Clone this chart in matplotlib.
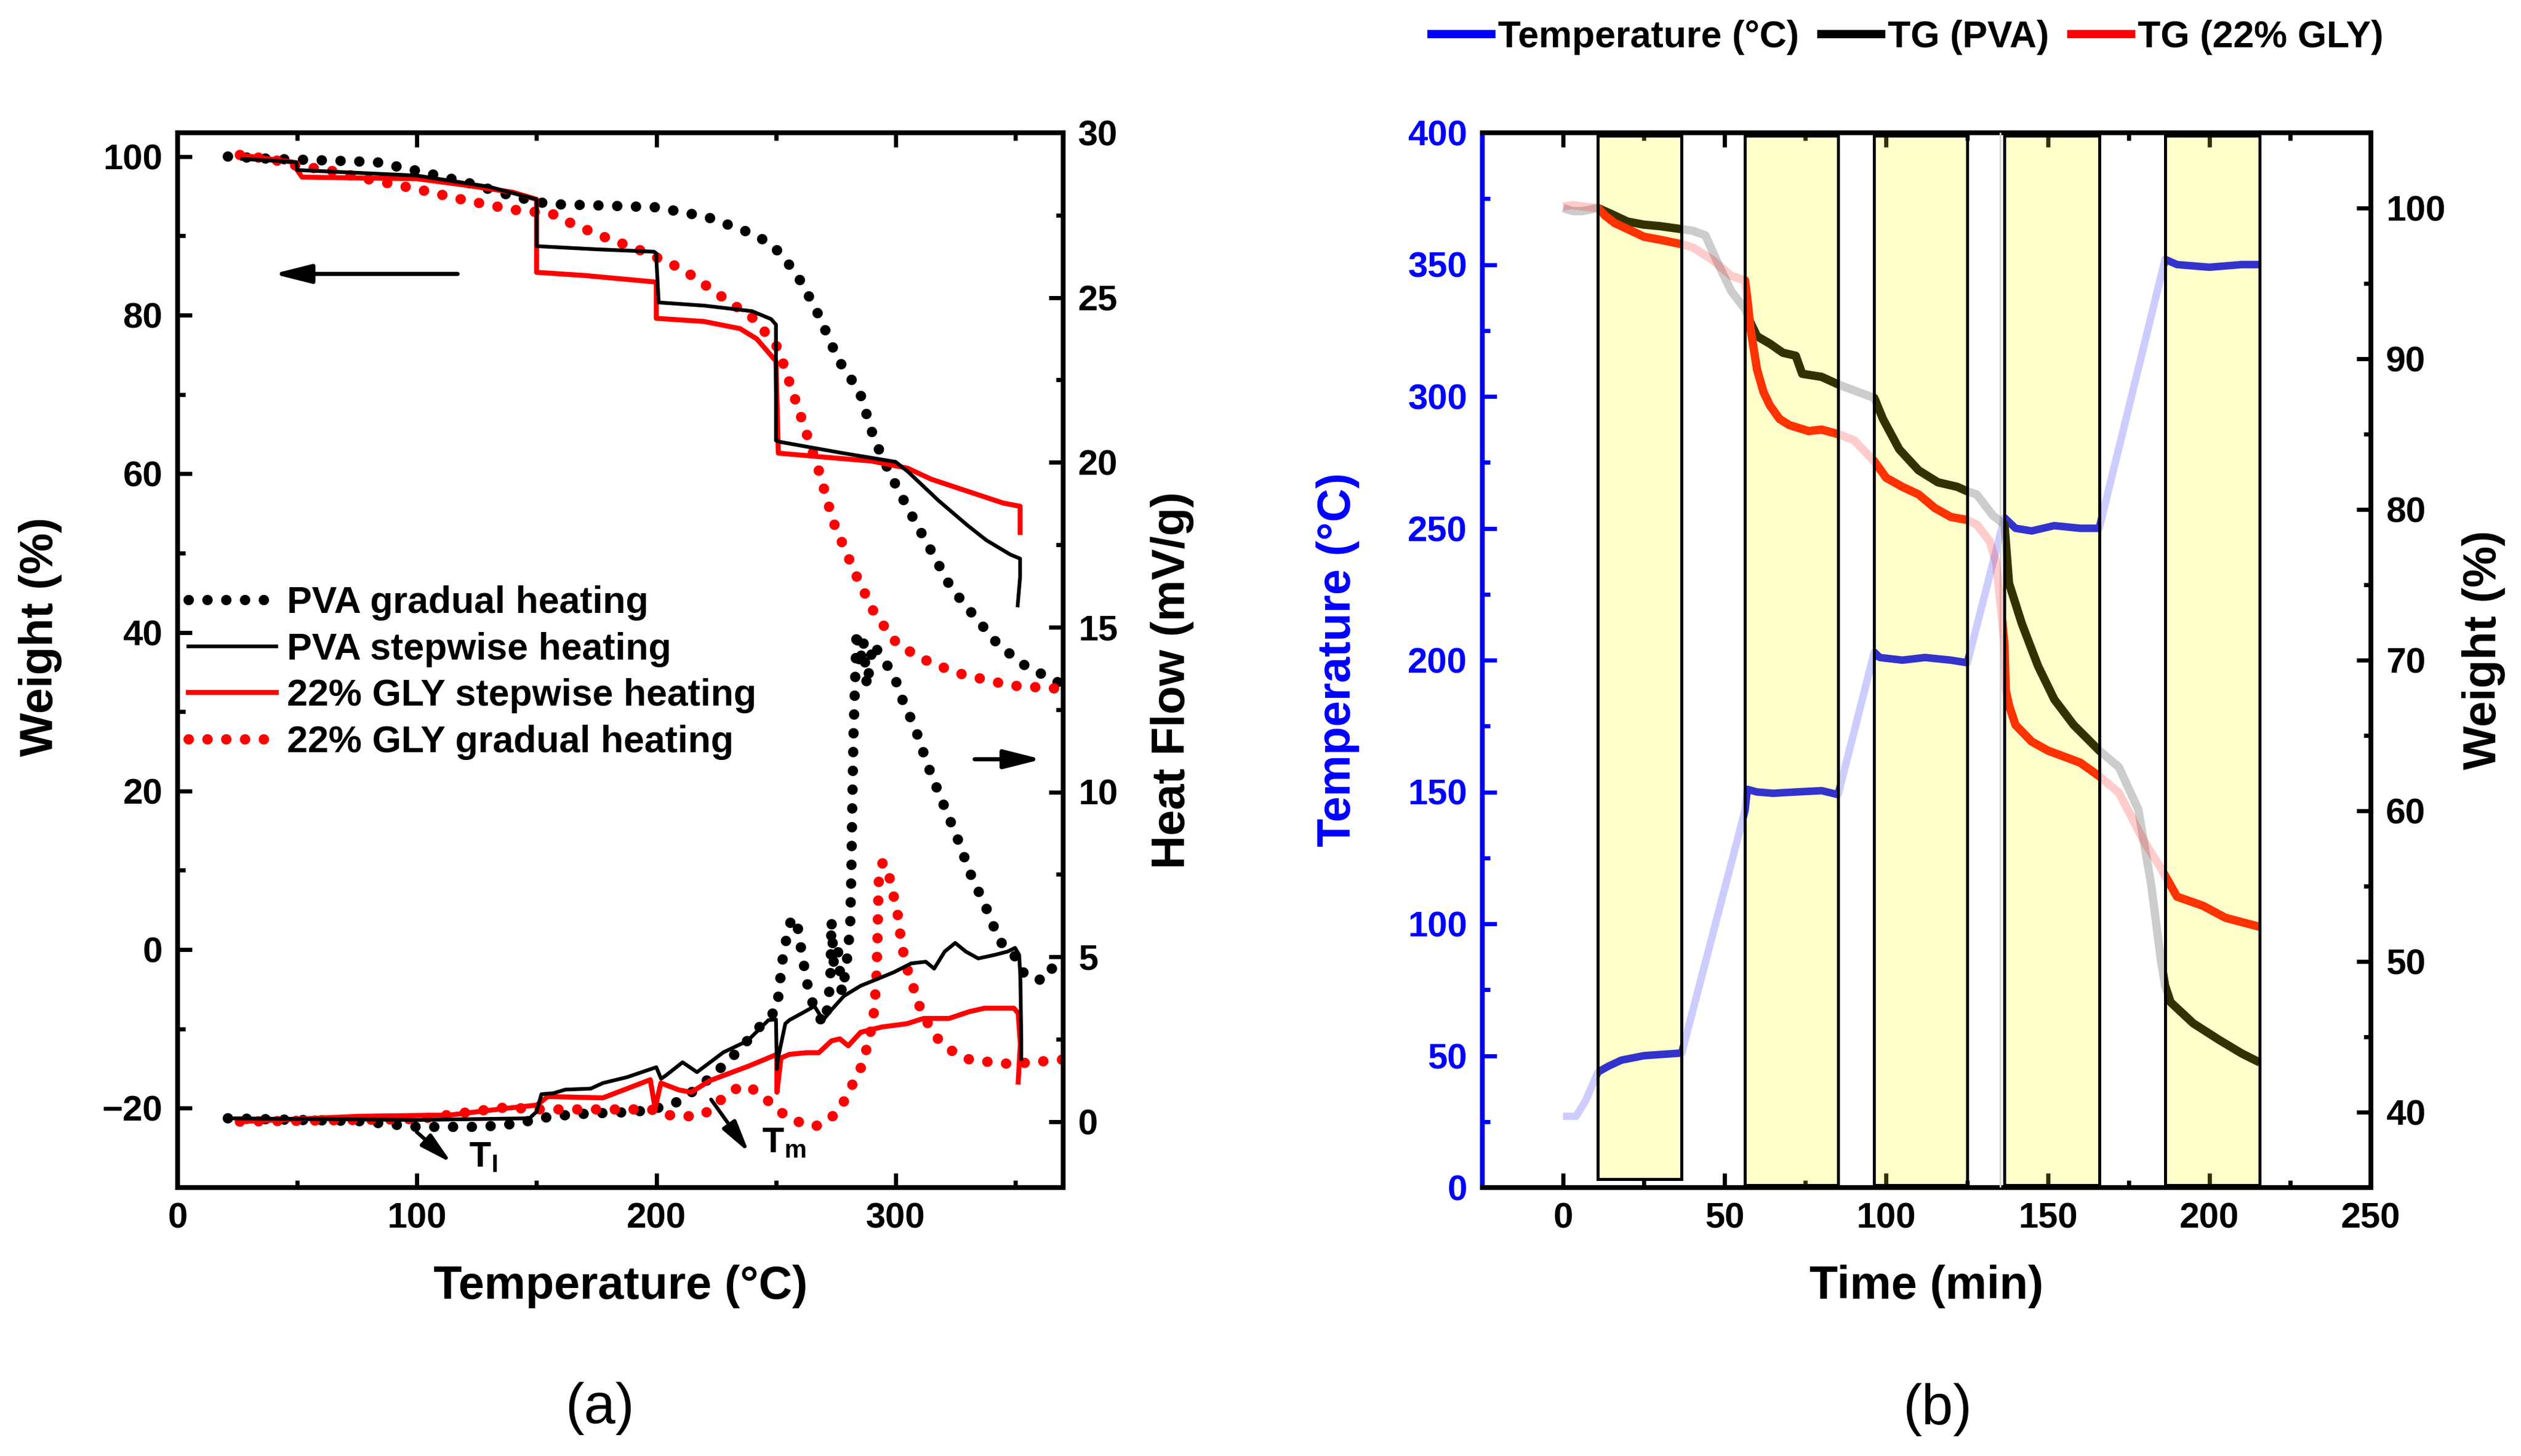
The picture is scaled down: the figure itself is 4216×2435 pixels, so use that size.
import numpy as np
import matplotlib
matplotlib.use('Agg')
import matplotlib.pyplot as plt
from matplotlib.lines import Line2D
from matplotlib.patches import Rectangle
from matplotlib.ticker import MultipleLocator

plt.rcParams['font.family'] = ['Liberation Sans', 'DejaVu Sans']
plt.rcParams['font.weight'] = 'bold'
plt.rcParams['axes.labelweight'] = 'bold'
plt.rcParams['mathtext.fontset'] = 'custom'
plt.rcParams['mathtext.rm'] = 'Liberation Sans'
plt.rcParams['mathtext.bf'] = 'Liberation Sans:bold'
plt.rcParams['mathtext.it'] = 'Liberation Sans:italic'

# ---------------- Panel (a) data ----------------
pva_grad_T = [21, 40, 63, 83, 100, 120, 140, 155, 180, 200, 221, 239, 248, 254, 261, 268, 276, 285, 291, 298,
              305, 315, 323, 333, 343, 355, 365, 370]
pva_grad_W = [100.0, 99.7, 99.5, 99.3, 98.2, 96.8, 95.0, 94.0, 93.8, 93.6, 92.4, 90.4, 89.0, 87.0, 84.0, 79.9,
              74.4, 70.3, 64.4, 59.8, 55.7, 50.2, 45.7, 42.0, 38.4, 35.6, 34.2, 33.3]

gly_grad_T = [26, 40, 53, 60, 77, 100, 120, 140, 150, 157, 165, 177, 194, 211, 228, 241, 251, 256, 261, 268,
              274, 283, 291, 301, 315, 328, 348, 368]
gly_grad_W = [100.2, 99.6, 98.6, 98.5, 97.3, 95.9, 94.5, 93.3, 93.0, 92.7, 91.5, 90.0, 88.1, 85.8, 82.2, 79.5,
              75.8, 71.2, 66.7, 60.3, 53.9, 47.5, 42.5, 38.4, 36.1, 34.7, 33.3, 32.9]

pva_step_T = [27, 49.5, 50, 100, 130, 150, 150, 175, 199, 200, 200, 201, 220, 240, 248, 250, 250, 252, 278, 300,
              305, 318, 330, 338, 348, 352, 352, 351]
pva_step_W = [99.7, 99.3, 98.3, 97.6, 96.2, 94.6, 88.7, 88.3, 88.0, 87.8, 87.2, 81.6, 81.2, 80.5, 79.5, 78.8,
              64.2, 64.0, 62.6, 61.5, 60.3, 56.6, 53.5, 51.6, 49.8, 49.3, 47.0, 43.4]

gly_step_T = [26, 48, 49.5, 52, 100, 120, 140, 150, 150, 170, 199, 200, 200, 220, 235, 242, 250, 251, 270, 290,
              305, 315, 328, 345, 352, 352]
gly_step_W = [100.2, 99.3, 98.5, 97.4, 97.2, 96.4, 95.5, 94.6, 85.4, 85.0, 84.2, 84.1, 79.6, 79.2, 78.3, 77.0,
              74.2, 62.6, 62.1, 61.6, 60.7, 59.3, 58.0, 56.3, 55.9, 52.6]

pva_grad_hf_T = [21, 50, 75, 100, 127, 142, 152, 165, 178, 190, 198, 208, 213, 221, 228, 235, 241, 246, 250.4,
                 252.6, 255.2, 257, 259.1, 260.9, 263.5, 265.3, 267.9, 269.2, 271.4, 272.7, 273.2, 274.1, 275.8,
                 277.5, 279.3, 281, 281.5, 281.9, 282.4, 283.7, 285, 286.5, 288, 290.5, 293.3, 299.5, 303, 308.2,
                 313.5, 318.7, 325.8, 331, 338.9, 343.3, 348.5, 351.2, 352.9, 356.4, 360, 362.6, 366.1, 369.6]
pva_grad_hf = [0.1, 0.05, 0.02, -0.16, -0.16, -0.06, 0.11, 0.22, 0.26, 0.29, 0.36, 0.57, 0.79, 1.24, 1.7, 2.2,
               2.7, 3.1, 3.4, 4.85, 5.89, 6.2, 5.89, 5.06, 4.02, 3.6, 3.29, 2.97, 3.39, 4.23, 6.1, 4.85, 5.27, 3.91,
               4.64, 5.89, 7.56, 9.64, 11.73, 14.9, 13.8, 14.6, 13.2, 14.5, 14.2, 13.5, 12.77, 11.93, 10.79, 9.85,
               8.6, 7.56, 6.31, 5.48, 5.16, 4.85, 4.54, 4.43, 4.28, 4.64, 4.64, 4.54]

gly_grad_hf_T = [26, 75, 101, 122, 137, 152, 175, 198, 202, 212, 220, 227, 235, 240, 245, 250.4, 255.6, 260.9,
                 266.2, 271.4, 276.7, 281, 285.4, 288.9, 291.1, 292, 292.4, 292.9, 294.6, 297.7, 299.5, 300.8,
                 301.7, 303.4, 305.6, 308.2, 310, 313.5, 317, 321.4, 325.8, 331, 336.3, 343.3, 350.3, 357.3,
                 364.3, 369.6]
gly_grad_hf = [0.0, 0.05, 0.08, 0.29, 0.43, 0.37, 0.37, 0.37, 0.22, 0.15, 0.22, 0.66, 1.08, 1.0, 0.75, 0.37,
               0.11, -0.05, -0.15, 0.01, 0.37, 0.99, 1.62, 2.45, 3.39, 4.43, 5.48, 7.25, 7.87, 7.35, 6.73, 6.31,
               5.79, 5.06, 4.43, 3.91, 3.5, 2.97, 2.56, 2.25, 2.04, 1.88, 1.83, 1.78, 1.73, 1.83, 1.83, 1.88]

pva_step_hf_T = [20, 100, 147, 150, 152, 157, 162, 172.6, 177.7, 187.9, 198, 200, 202, 204, 211, 217, 228, 238.1,
                 246.9, 250, 250.4, 250.8, 253.9, 255.6, 260.9, 266.1, 269.7, 273.2, 278.4, 285.4, 292.5, 299.5,
                 306.5, 312.6, 316.1, 320.5, 324.9, 329.3, 334.5, 341.5, 346.8, 349.9, 351.6, 352.1, 352.5, 352.5]
pva_step_hf = [0.1, 0.05, 0.1, 0.3, 0.83, 0.86, 0.97, 1.0, 1.17, 1.35, 1.6, 1.65, 1.3, 1.4, 1.8, 1.5, 2.1, 2.45,
               3.08, 3.1, 1.6, 1.9, 2.97, 3.08, 3.29, 3.5, 3.08, 3.39, 3.81, 4.12, 4.33, 4.54, 4.8, 4.85, 4.64,
               5.16, 5.42, 5.16, 4.95, 5.06, 5.16, 5.27, 5.06, 4.43, 2.56, 1.9]

gly_step_hf_T = [26, 75.7, 113.9, 136.9, 150, 150.9, 154.7, 177.7, 197.5, 199.5, 201.9, 209.5, 214.6, 222.3,
                 227.4, 238.1, 245.1, 250.4, 250.4, 252.1, 255.6, 262.6, 267.9, 273.2, 276.7, 280.2, 285.4, 294.2,
                 304.7, 311.7, 322.3, 331, 337.2, 349.4, 351.2, 352.1, 351.2]
gly_step_hf = [0.0, 0.16, 0.2, 0.4, 0.5, 0.55, 0.76, 0.72, 1.27, 0.4, 1.17, 0.96, 0.89, 1.24, 1.38, 1.67, 1.88,
               2.04, 0.89, 1.93, 2.04, 2.09, 2.09, 2.45, 2.51, 2.3, 2.71, 2.87, 2.97, 3.13, 3.13, 3.34, 3.44, 3.44,
               3.29, 2.35, 1.2]

legend_a = ['PVA gradual heating', 'PVA stepwise heating', '22% GLY stepwise heating', '22% GLY gradual heating']

# ---------------- Panel (b) data ----------------
temp_t = [0, 4, 7, 10.8, 14, 18, 25, 36.7, 56.3, 57, 60, 65, 72, 80, 85.1, 96.3, 98, 105, 112, 120, 125.1,
          136.6, 140, 145, 152, 160, 165.9, 186.3, 190, 200, 210, 215.6]
temp_T = [27, 27, 33, 43.8, 46, 48.3, 50, 51, 143, 151, 150, 149.5, 150, 150.5, 149, 203, 201, 200, 201, 200, 199,
          254, 250, 249, 251, 250, 250, 352, 350, 349, 350, 350]

pva_t = [0, 3, 6, 10.8, 15, 20, 25, 30, 36.7, 40, 44, 48, 52, 56.3, 58, 60, 64, 68, 72, 74, 80, 85.1, 90, 96.3,
         99, 104, 110, 116, 122, 125.1, 128, 133, 136.6, 138, 142, 147, 152, 158, 165.9, 172, 178, 182, 185,
         186.3, 188, 195, 203, 210, 215.6]
pva_W = [100.0, 99.8, 99.8, 100.0, 99.6, 99.1, 98.9, 98.8, 98.6, 98.5, 98.2, 96.3, 94.5, 93.3, 92.4, 91.5, 91.0,
         90.4, 90.2, 89.0, 88.8, 88.3, 87.9, 87.4, 86.0, 84.0, 82.6, 81.8, 81.5, 81.2, 81.0, 79.6, 79.0, 75.1,
         72.4, 69.6, 67.4, 65.7, 64.0, 62.9, 60.1, 55.1, 50.1, 48.4, 47.3, 45.9, 44.8, 43.9, 43.3]

gly_t = [0, 3, 6, 10.8, 13, 16, 20, 25, 30, 36.7, 40, 46, 52, 56.3, 57, 58, 60, 62, 64, 67, 70, 76, 80, 85.1, 90,
         96.3, 100, 105, 110, 115, 120, 125.1, 128, 132, 134, 135.5, 136.6, 137, 138, 140, 145, 150, 160, 165.9,
         172, 180, 185, 186.3, 190, 198, 205, 215.6]
gly_W = [100.1, 100.2, 100.1, 100.0, 99.5, 99.0, 98.6, 98.1, 97.9, 97.6, 97.4, 96.6, 95.5, 95.2, 94.0, 92.0, 89.3,
         87.8, 86.9, 86.0, 85.6, 85.2, 85.3, 85.0, 84.6, 83.2, 82.1, 81.5, 81.0, 80.1, 79.5, 79.3, 79.0, 77.9,
         76.5, 73.5, 71.0, 68.0, 67.0, 65.7, 64.6, 64.0, 63.2, 62.3, 61.2, 57.9, 56.2, 55.7, 54.3, 53.7, 52.9, 52.3]

rect_start = [10.8, 56.3, 96.3, 136.6, 186.3]
rect_end = [36.7, 85.1, 125.1, 165.9, 215.6]
rect_bottom = [3.2, 1.0, 1.0, 1.0, 1.0]
legend_b = ['Temperature (°C)', 'TG (PVA)', 'TG (22% GLY)']

# ---------------- Figure ----------------
fig = plt.figure(figsize=(42.16, 24.35), dpi=100)
W_PX, H_PX = 4216, 2435
top_px, bot_px = 222, 1986
axA = fig.add_axes([297 / W_PX, 1 - bot_px / H_PX, (1778 - 297) / W_PX, (bot_px - top_px) / H_PX])
axA2 = axA.twinx()
axB = fig.add_axes([2479 / W_PX, 1 - bot_px / H_PX, (3965 - 2479) / W_PX, (bot_px - top_px) / H_PX])
axB2 = axB.twinx()

TICK_FS = 43
LEG_FS = 45
LABEL_FS = 56
SPINE_W = 5.8


def style_axes(ax):
    for sp in ax.spines.values():
        sp.set_linewidth(SPINE_W)
    ax.tick_params(which='both', direction='in', width=5.0, labelsize=TICK_FS, pad=18)
    ax.tick_params(which='major', length=17)
    ax.tick_params(which='minor', length=9)


dot_style = dict(linestyle=(0, (0.01, 1.8)), dash_capstyle='round', lw=12.5)

# ---- Panel (a) ----
l1, = axA.plot(pva_grad_T, pva_grad_W, color='black', **dot_style)
l4, = axA.plot(gly_grad_T, gly_grad_W, color='red', **dot_style)
l3, = axA.plot(gly_step_T, gly_step_W, color='red', lw=6)
l2, = axA.plot(pva_step_T, pva_step_W, color='black', lw=4.5)

axA2.plot(pva_grad_hf_T, pva_grad_hf, color='black', **dot_style)
axA2.plot(gly_grad_hf_T, gly_grad_hf, color='red', **dot_style)
axA2.plot(gly_step_hf_T, gly_step_hf, color='red', lw=6)
axA2.plot(pva_step_hf_T, pva_step_hf, color='black', lw=4.5)

axA.set_xlim(0, 370)
axA.set_ylim(-30, 103)
axA2.set_ylim(-2, 30)
axA.xaxis.set_major_locator(MultipleLocator(100))
axA.xaxis.set_minor_locator(MultipleLocator(50))
axA.yaxis.set_major_locator(MultipleLocator(20))
axA.yaxis.set_minor_locator(MultipleLocator(10))
axA2.yaxis.set_major_locator(MultipleLocator(5))
axA2.yaxis.set_minor_locator(MultipleLocator(2.5))
style_axes(axA)
style_axes(axA2)
axA.tick_params(which='both', top=True, bottom=True, left=True, right=False)
axA2.tick_params(which='both', right=True, left=False)

axA.set_ylabel('Weight (%)', fontsize=LABEL_FS, va='center')
axA.yaxis.set_label_coords((67 - 297) / 1481, (bot_px - 1065) / 1764)
axA2.set_ylabel('Heat Flow (mV/g)', fontsize=LABEL_FS, va='center')
axA2.yaxis.set_label_coords((1961 - 297) / 1481, (bot_px - 1138) / 1764)
axA.set_xlabel('Temperature (°C)', fontsize=LABEL_FS, va='center')
axA.xaxis.set_label_coords(0.5, (bot_px - 2151) / 1764)

axA.legend([l1, l2, l3, l4], legend_a, loc='upper left', bbox_to_anchor=(0.012, 0.571), frameon=False,
           fontsize=LEG_FS, handlelength=2.35, handletextpad=0.3, labelspacing=0.3, borderpad=0,
           borderaxespad=0)

big_arrow = dict(arrowstyle='-|>,head_length=0.95,head_width=0.24', mutation_scale=40, lw=5, color='black',
                 shrinkA=0, shrinkB=0)
small_arrow = dict(arrowstyle='-|>,head_length=0.8,head_width=0.2', mutation_scale=40, lw=4.5, color='black',
                   shrinkA=0, shrinkB=0)
axA.annotate('', xy=(40, 85.2), xytext=(117, 85.2), arrowprops=big_arrow)
axA.annotate('', xy=(361, 24.0), xytext=(333, 24.0), arrowprops=big_arrow)
axA.annotate('', xy=(114.5, -26.9), xytext=(99.9, -23.0), arrowprops=small_arrow)
axA.annotate('', xy=(238.8, -25.6), xytext=(222.9, -18.9), arrowprops=small_arrow)
axA.text(121.6, -27.4, r'$\mathbf{T_I}$', fontsize=TICK_FS, ha='left', va='baseline')
axA.text(244.2, -25.6, r'$\mathbf{T_m}$', fontsize=TICK_FS, ha='left', va='baseline')

# ---- Panel (b) ----
axB.plot(temp_t, temp_T, color='blue', lw=9, alpha=0.2, solid_capstyle='butt')
axB2.plot(pva_t, pva_W, color='black', lw=10, alpha=0.2, solid_capstyle='butt')
axB2.plot(gly_t, gly_W, color='red', lw=10, alpha=0.2, solid_capstyle='butt')
for a, b in zip(rect_start, rect_end):
    ln, = axB.plot(temp_t, temp_T, color='blue', lw=9, solid_capstyle='butt')
    ln.set_clip_path(Rectangle((a, -50), b - a, 600, transform=axB.transData))
    ln2, = axB2.plot(pva_t, pva_W, color='black', lw=10, solid_capstyle='butt')
    ln2.set_clip_path(Rectangle((a, 0), b - a, 200, transform=axB2.transData))
    ln3, = axB2.plot(gly_t, gly_W, color='red', lw=10, solid_capstyle='butt')
    ln3.set_clip_path(Rectangle((a, 0), b - a, 200, transform=axB2.transData))

axB2.axvline(135.2, color='#D6D6D6', lw=2.0, zorder=1)
for a, b, y0 in zip(rect_start, rect_end, rect_bottom):
    axB2.axvspan(a, b, ymin=y0 / 400, ymax=0.997, facecolor=(1, 1, 0, 0.2), edgecolor='black', lw=3.6,
                 zorder=5)

axB.set_xlim(-25, 250)
axB.set_ylim(0, 400)
axB2.set_ylim(35, 105)
axB.xaxis.set_major_locator(MultipleLocator(50))
axB.xaxis.set_minor_locator(MultipleLocator(25))
axB.yaxis.set_major_locator(MultipleLocator(50))
axB.yaxis.set_minor_locator(MultipleLocator(25))
axB2.yaxis.set_major_locator(MultipleLocator(10))
axB2.yaxis.set_minor_locator(MultipleLocator(5))
style_axes(axB)
style_axes(axB2)
axB.tick_params(which='both', top=True, bottom=True, left=True, right=False)
axB.tick_params(axis='y', which='both', colors='blue')
axB2.tick_params(which='both', right=True, left=False)
axB.spines['left'].set_color('blue')
axB2.spines['left'].set_visible(False)
axB2.spines['top'].set_visible(False)
axB2.spines['bottom'].set_visible(False)

axB.set_ylabel('Temperature (°C)', fontsize=LABEL_FS, va='center', color='blue')
axB.yaxis.set_label_coords((2238 - 2479) / 1486, (bot_px - 1103) / 1764)
axB2.set_ylabel('Weight (%)', fontsize=LABEL_FS, va='center')
axB2.yaxis.set_label_coords((4153 - 2479) / 1486, (bot_px - 1087) / 1764)
axB.set_xlabel('Time (min)', fontsize=LABEL_FS, va='center')
axB.xaxis.set_label_coords(0.5, (bot_px - 2151) / 1764)

hb = [Line2D([], [], color='blue', lw=10), Line2D([], [], color='black', lw=10),
      Line2D([], [], color='red', lw=10)]
fig.legend(hb, legend_b, loc='center', bbox_to_anchor=(0.7566, 0.9745), ncol=3, frameon=False,
           fontsize=LEG_FS, handlelength=1.6, handletextpad=0.17, columnspacing=0.6, borderpad=0)

fig.text(1003 / W_PX, 1 - 2355 / H_PX, '(a)', fontsize=68, fontweight='normal', ha='center', va='center')
fig.text(3240 / W_PX, 1 - 2358 / H_PX, '(b)', fontsize=68, fontweight='normal', ha='center', va='center')

fig.savefig('out.png', dpi=100)
